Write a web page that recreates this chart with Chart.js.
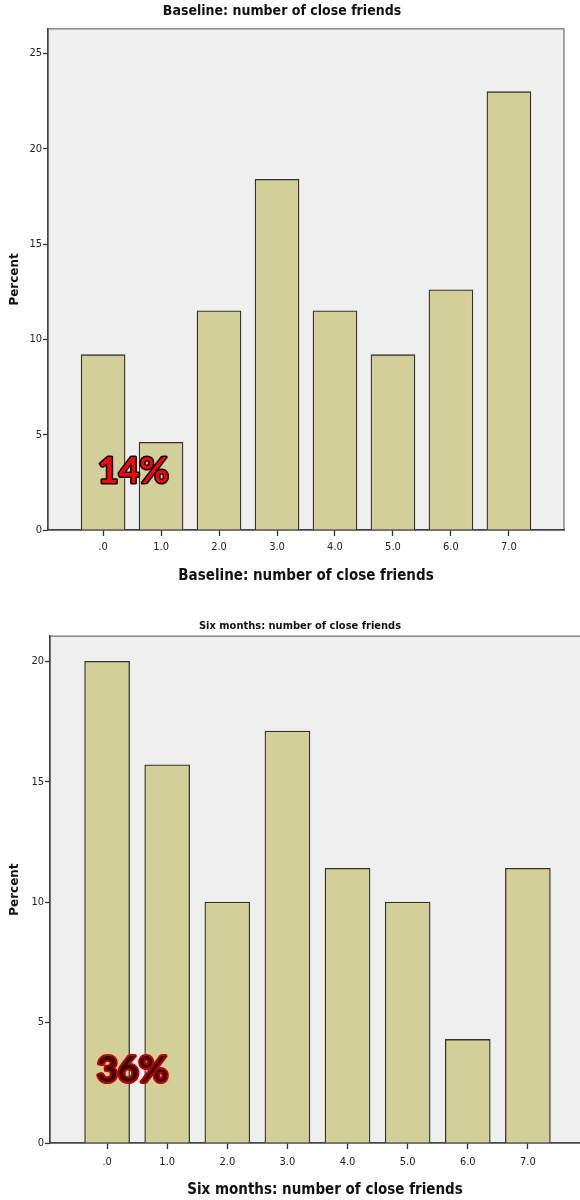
<!DOCTYPE html>
<html>
<head>
<meta charset="utf-8">
<title>Number of close friends</title>
<script src="https://cdn.jsdelivr.net/npm/chart.js@4.4.1/dist/chart.umd.min.js"></script>
<style>
    html, body { margin: 0; padding: 0; background: #fff; overflow: hidden; }
    body { width: 580px; height: 1200px; position: relative; }
    .panel { position: absolute; left: 0; }
    #panel-baseline { top: 0; width: 580px; height: 600px; }
    #panel-six { top: 600px; width: 600px; height: 600px; }
</style>
</head>
<body>
<div class="panel" id="panel-baseline"><canvas id="chart-baseline"></canvas></div>
<div class="panel" id="panel-six"><canvas id="chart-six"></canvas></div>
<script>
// Categories (number of close friends) shared by both charts
const friendCounts = [0, 1, 2, 3, 4, 5, 6, 7];

// Percent of respondents per category
const baselinePercent = [9.2, 4.6, 11.5, 18.4, 11.5, 9.2, 12.6, 23.0];
const sixMonthPercent = [20.0, 15.7, 10.0, 17.1, 11.4, 10.0, 4.3, 11.4];

// Y tick labels
const baselineYTicks = [0, 5, 10, 15, 20, 25];
const sixMonthYTicks = [0, 5, 10, 15, 20];

const NARROW = '"Liberation Sans Narrow", "Arial Narrow", "DejaVu Sans Condensed", sans-serif';
const BAR_FILL = '#d3cf98';
const BAR_EDGE = '#33332c';

// Grey plot background with a thin frame, like the SPSS output
const plotFrame = {
    id: 'plotFrame',
    beforeDraw(chart) {
        const a = chart.chartArea;
        const ctx = chart.ctx;
        ctx.save();
        ctx.fillStyle = '#efefef';
        ctx.fillRect(a.left, a.top, a.right - a.left, a.bottom - a.top);
        ctx.strokeStyle = '#8a8a8a';
        ctx.lineWidth = 1.5;
        ctx.strokeRect(a.left, a.top, a.right - a.left, a.bottom - a.top);
        ctx.restore();
    }
};

// Big percentage stamp drawn on top of the bars
const bigLabel = {
    id: 'bigLabel',
    afterDatasetsDraw(chart, args, opts) {
        if (!opts.text) return;
        const ctx = chart.ctx;
        const px = chart.scales.x.getPixelForValue(opts.x);
        const py = chart.scales.y.getPixelForValue(opts.y);
        ctx.save();
        ctx.font = 'bold 36px Lato, "Open Sans", sans-serif';
        ctx.textAlign = 'left';
        ctx.textBaseline = 'alphabetic';
        ctx.lineJoin = 'round';
        ctx.lineWidth = opts.strokeWidth;
        ctx.strokeStyle = opts.stroke;
        ctx.strokeText(opts.text, px, py);
        ctx.fillStyle = opts.fill;
        ctx.fillText(opts.text, px, py);
        ctx.restore();
    }
};

function makeChart(canvasId, cfg) {
    const ctx = document.getElementById(canvasId).getContext('2d');
    return new Chart(ctx, {
        type: 'bar',
        data: {
            datasets: [{
                data: friendCounts.map((c, i) => ({ x: c, y: cfg.values[i] })),
                backgroundColor: BAR_FILL,
                borderColor: BAR_EDGE,
                borderWidth: 1.3,
                barThickness: cfg.barWidth
            }]
        },
        options: {
            responsive: true,
            maintainAspectRatio: false,
            animation: false,
            layout: { padding: { top: 0, right: cfg.padRight, bottom: 0, left: 0 } },
            scales: {
                x: {
                    type: 'linear',
                    offset: false,
                    min: -0.95,
                    max: cfg.xMax,
                    afterBuildTicks: axis => { axis.ticks = friendCounts.map(v => ({ value: v })); },
                    afterFit: axis => { axis.height = cfg.xAxisHeight; },
                    grid: { offset: false, drawOnChartArea: false, drawTicks: true, tickLength: 6, tickWidth: 1.3, color: '#333' },
                    border: { display: true, color: '#444', width: 1.5 },
                    ticks: {
                        padding: cfg.xTickPad,
                        maxRotation: 0,
                        color: '#222',
                        font: { family: NARROW, size: 11 },
                        callback: v => v === 0 ? '.0' : v.toFixed(1)
                    },
                    title: {
                        display: true,
                        text: cfg.xTitle,
                        color: '#111',
                        font: { family: NARROW, size: 15, weight: 'bold' },
                        padding: { top: 0, bottom: cfg.xTitlePadBottom }
                    }
                },
                y: {
                    min: 0,
                    max: cfg.yMax,
                    afterBuildTicks: axis => { axis.ticks = cfg.yTicks.map(v => ({ value: v })); },
                    afterFit: axis => { axis.width = cfg.yAxisWidth; },
                    grid: { drawOnChartArea: false, drawTicks: true, tickLength: 5, tickWidth: 1.3, color: '#333' },
                    border: { display: true, color: '#444', width: 1.5 },
                    ticks: {
                        padding: 1,
                        color: '#222',
                        font: { family: NARROW, size: 11 }
                    },
                    title: {
                        display: true,
                        text: 'Percent',
                        color: '#111',
                        font: { family: '"DejaVu Sans", sans-serif', size: 12, weight: 'bold' },
                        padding: { top: 8, bottom: 0 }
                    }
                }
            },
            plugins: {
                legend: { display: false },
                tooltip: { enabled: false },
                title: {
                    display: true,
                    text: cfg.title,
                    color: '#111',
                    font: { family: NARROW, size: cfg.titleSize, weight: 'bold' },
                    padding: cfg.titlePad
                },
                bigLabel: cfg.stamp
            }
        },
        plugins: [plotFrame, bigLabel]
    });
}

makeChart('chart-baseline', {
    values: baselinePercent,
    yTicks: baselineYTicks,
    yMax: 26.3,
    xMax: 7.95,
    barWidth: 44,
    padRight: 16,
    yAxisWidth: 48,
    xAxisHeight: 70,
    xTickPad: 5,
    xTitle: 'Baseline: number of close friends',
    xTitlePadBottom: 15,
    title: 'Baseline: number of close friends',
    titleSize: 14,
    titlePad: { top: 3, bottom: 9 },
    stamp: { text: '14%', x: -0.09, y: 2.47, fill: '#ff0000', stroke: '#000', strokeWidth: 3 }
});

makeChart('chart-six', {
    values: sixMonthPercent,
    yTicks: sixMonthYTicks,
    yMax: 21.04,
    xMax: 8.2,
    barWidth: 45,
    padRight: 0,
    yAxisWidth: 50,
    xAxisHeight: 57,
    xTickPad: 7,
    xTitle: 'Six months: number of close friends',
    xTitlePadBottom: 1,
    title: 'Six months: number of close friends',
    titleSize: 11,
    titlePad: { top: 20, bottom: 3 },
    stamp: { text: '36%', x: -0.17, y: 2.54, fill: '#3a0000', stroke: '#c00000', strokeWidth: 4 }
});
</script>
</body>
</html>
